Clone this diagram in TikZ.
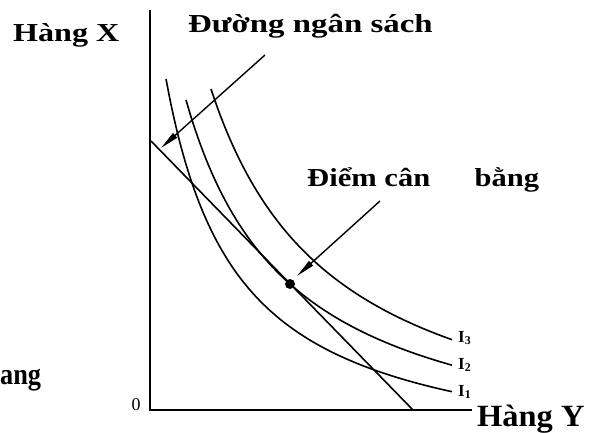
\documentclass[tikz,border=0pt]{standalone}
\usepackage{fontspec}
\setmainfont{Liberation Serif}
\usetikzlibrary{arrows.meta}

\begin{document}
\begin{tikzpicture}[x=1bp, y=-1bp,
		axis/.style={line width=2.2bp},
		curve/.style={line width=1.6bp},
		leader/.style={line width=1.4bp, -{Triangle[length=19bp, width=6bp]}},
		txt/.style={inner sep=0pt, font=\fontsize{26}{30}\selectfont\bfseries},
		chiso/.style={inner sep=0pt, font=\fontsize{17}{20}\selectfont\bfseries}]
		
		\useasboundingbox (0,0) rectangle (591,433);
		
		% --- TRUC TOA DO ---
		\coordinate (goc) at (150,410);
		\coordinate (dinhX) at (150,10);
		\coordinate (cuoiY) at (472,410);
		\draw[axis] (dinhX) -- (goc) -- (cuoiY);
		\node[inner sep=0pt, font=\fontsize{18}{20}\selectfont] (so0) at (136,405) {0};
		
		% --- DUONG NGAN SACH ---
		\coordinate (nsX) at (151,141);
		\coordinate (nsY) at (413,410);
		\draw[curve] (nsX) -- (nsY);
		
		% --- CAC DUONG BANG QUAN I1, I2, I3 ---
		\draw[curve] plot[domain=166:452, samples=60, smooth] (\x, {470-280/((\x-94.4)/100)});
		\draw[curve] plot[domain=186:452, samples=60, smooth] (\x, {470-388.93/((\x-80.9)/100)});
		\draw[curve] plot[domain=211:452, samples=60, smooth] (\x, {470-477.33/((\x-85.7)/100)});
		\node[chiso, anchor=west] (I3) at (458,338) {I\textsubscript{3}};
		\node[chiso, anchor=west] (I2) at (458,365) {I\textsubscript{2}};
		\node[chiso, anchor=west] (I1) at (458,392) {I\textsubscript{1}};
		
		% Diem can bang (tiep diem)
		\node[circle, fill=black, inner sep=0pt, minimum size=10bp] (canbang) at (290,284) {};
		
		% --- NHAN ---
		\node[txt, anchor=base west] (hangX) at (13,42) {\scalebox{1.24}[1]{Hàng X}};
		\node[txt, anchor=base west] (hangY) at (477,426) {\scalebox{1.05}[1]{\fontsize{31}{36}\selectfont Hàng Y}};
		\node[txt, anchor=base west] (duongNS) at (188,33) {\scalebox{1.27}[1]{Đường ngân sách}};
		\node[txt, anchor=base west] (diemCB) at (307,187) {\scalebox{1.18}[1]{Điểm cân\hspace{1.45em}bằng}};
		\node[txt, anchor=base west] (ang) at (0,384) {\scalebox{0.88}[1]{\fontsize{30}{34}\selectfont ang}};
		
		% --- DUONG CHI DAN ---
		\coordinate (nsDau) at (265,55);
		\coordinate (nsMui) at (161,148);
		\draw[leader] (nsDau) -- (nsMui);
		\coordinate (cbDau) at (380,201);
		\coordinate (cbMui) at (297,276);
		\draw[leader] (cbDau) -- (cbMui);
		
	\end{tikzpicture}
\end{document}
